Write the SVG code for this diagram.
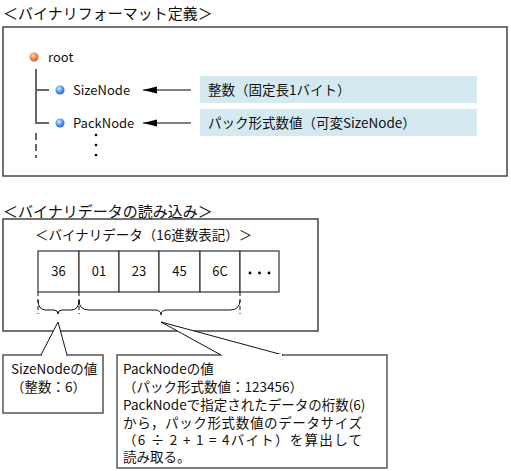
<svg xmlns="http://www.w3.org/2000/svg" width="511" height="471" viewBox="0 0 511 471">
<style>
text{font-family:"Noto Sans CJK JP","DejaVu Sans",sans-serif;fill:#111;}
.t15{font-size:15px;}
.t14{font-size:13.5px;}
.t13{font-size:13px;}
.frame{fill:#fff;stroke:#444;stroke-width:1.5;}
.tree{stroke:#666;stroke-width:2;fill:none;}
.blue{fill:#D4EAF0;}
.cell{fill:#fff;stroke:#333;stroke-width:1.2;}
.thin{stroke:#111;stroke-width:1;fill:none;}
.dash{stroke:#111;stroke-width:1;stroke-dasharray:4,3;fill:none;}
.callout{fill:#fff;stroke:#555;stroke-width:1.5;}
</style>
<defs>
<radialGradient id="gOr" cx="0.4" cy="0.35" r="0.7">
<stop offset="0" stop-color="#ffe0c0"/><stop offset="0.5" stop-color="#f48a50"/><stop offset="1" stop-color="#d0501e"/>
</radialGradient>
<radialGradient id="gBl" cx="0.4" cy="0.35" r="0.7">
<stop offset="0" stop-color="#e0f0ff"/><stop offset="0.5" stop-color="#5a9cf0"/><stop offset="1" stop-color="#2a5ed0"/>
</radialGradient>
<marker id="ah" markerWidth="14" markerHeight="8" refX="14" refY="4" orient="auto" markerUnits="userSpaceOnUse">
<path d="M14,4 L0,0.5 L0,7.5 Z" fill="#000"/>
</marker>
</defs>

<text class="t15" x="3" y="19">＜バイナリフォーマット定義＞</text>
<rect class="frame" x="3" y="27" width="504" height="149"/>

<g id="tree-lines">
<path class="tree" d="M36,69 V123 H49 M36,90 H49"/>
<path class="tree" d="M36,133 V158" stroke-dasharray="7,4"/>
</g>
<g id="root"><circle cx="34" cy="57" r="4.5" fill="url(#gOr)"/><text class="t13" x="48" y="62">root</text></g>
<g id="sizenode"><circle cx="60" cy="90" r="4.5" fill="url(#gBl)"/><text class="t13" x="73" y="95">SizeNode</text></g>
<g id="packnode"><circle cx="60" cy="123" r="4.5" fill="url(#gBl)"/><text class="t13" x="73" y="128">PackNode</text></g>
<g id="dots" fill="#000"><circle cx="96" cy="135" r="1.3"/><circle cx="96" cy="145" r="1.3"/><circle cx="96" cy="155" r="1.3"/></g>

<g id="desc-size"><rect class="blue" x="200" y="76" width="277" height="27"/><text class="t14" x="208" y="95">整数（固定長1バイト）</text></g>
<g id="desc-pack"><rect class="blue" x="200" y="109" width="277" height="27"/><text class="t14" x="208" y="128">パック形式数値（可変SizeNode）</text></g>

<g id="connectors">
<line x1="191" y1="90" x2="143" y2="90" stroke="#000" stroke-width="1" marker-end="url(#ah)"/>
<line x1="191" y1="123" x2="143" y2="123" stroke="#000" stroke-width="1" marker-end="url(#ah)"/>
</g>

<text class="t15" x="3" y="217">＜バイナリデータの読み込み＞</text>
<rect class="frame" x="3" y="219" width="315" height="112"/>
<text class="t14" x="35" y="240">＜バイナリデータ（16進数表記）＞</text>

<g id="cells">
<rect class="cell" x="38" y="251" width="41" height="41"/>
<rect class="cell" x="79" y="251" width="40" height="41"/>
<rect class="cell" x="119" y="251" width="40" height="41"/>
<rect class="cell" x="159" y="251" width="41" height="41"/>
<rect class="cell" x="200" y="251" width="40" height="41"/>
<rect class="cell" x="240" y="251" width="39" height="41"/>
<g class="t13" text-anchor="middle">
<text x="58.5" y="276">36</text>
<text x="99" y="276">01</text>
<text x="139" y="276">23</text>
<text x="179.5" y="276">45</text>
<text x="220" y="276">6C</text>
</g>
<g fill="#000"><circle cx="250" cy="273" r="1.4"/><circle cx="259.5" cy="273" r="1.4"/><circle cx="269" cy="273" r="1.4"/></g>
</g>

<g id="braces">
<path class="dash" d="M38,292 V314 M79,292 V314 M240,292 V314"/>
<path class="thin" d="M38,300 Q38,310 46,310 L54,310 Q58,310 58,314 Q58,310 62,310 L71,310 Q79,310 79,300"/>
<path class="thin" d="M79,300 Q79,310 89,310 L155,310 Q161,310 161,315 Q161,310 167,310 L230,310 Q240,310 240,300"/>
</g>

<g id="callout-size">
<rect class="callout" x="3" y="355" width="100" height="58"/>
<path d="M41,355 L58,322 L67,355" fill="#fff" stroke="#111" stroke-width="1"/>
<line x1="42" y1="355" x2="66" y2="355" stroke="#fff" stroke-width="2"/>
<text class="t14" x="11" y="374">SizeNodeの値</text>
<text class="t14" x="11" y="392">（整数：6）</text>
</g>

<g id="callout-pack">
<rect class="callout" x="117" y="355" width="270" height="113"/>
<path d="M221,355 L161,322 L283,355" fill="#fff" stroke="#111" stroke-width="1"/>
<line x1="222" y1="355" x2="282" y2="355" stroke="#fff" stroke-width="2"/>
<text class="t14" x="123" y="374">PackNodeの値</text>
<text class="t14" x="123" y="392">（パック形式数値：123456）</text>
<text class="t14" x="123" y="410">PackNodeで指定されたデータの桁数(6)</text>
<text class="t14" x="123" y="428" textLength="239" lengthAdjust="spacing">から，パック形式数値のデータサイズ</text>
<text class="t14" x="123" y="445" textLength="239" lengthAdjust="spacing">（6 ÷ 2 + 1 = 4バイト）を算出して</text>
<text class="t14" x="123" y="462">読み取る。</text>
</g>
</svg>
